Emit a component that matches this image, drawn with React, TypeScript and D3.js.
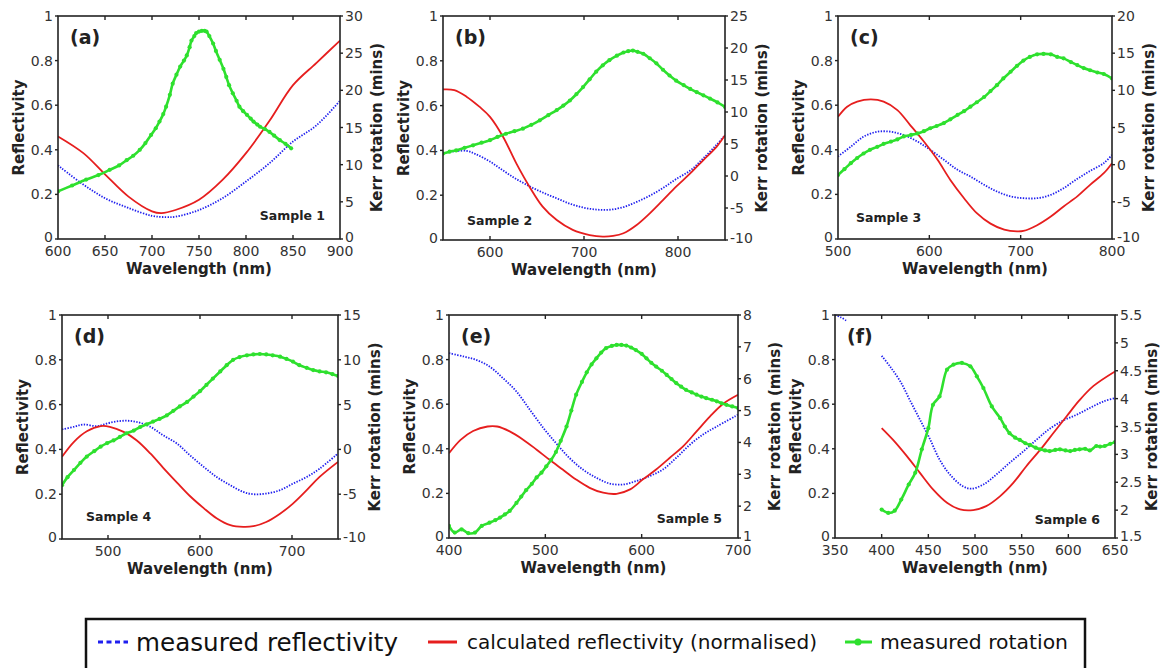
import React from "react";
import * as d3 from "d3";

type P = [number, number];

// ---------- Panel (a) Sample 1 ----------
const redA: P[] = [[600,0.46],[627,0.385],[650,0.29],[675,0.19],[700,0.124],[710,0.116],[725,0.13],[750,0.176],[775,0.265],[800,0.385],[825,0.53],[850,0.69],[875,0.79],[900,0.89]];
const blueA: P[] = [[600,0.33],[625,0.25],[650,0.183],[675,0.139],[700,0.104],[715,0.098],[725,0.1],[750,0.13],[775,0.183],[800,0.258],[825,0.34],[850,0.437],[875,0.51],[900,0.62]];
const greenA: P[] = [[600,6.4],[615,7.2],[630,8.0],[643,8.6],[655,9.3],[665,9.9],[673,10.6],[680,11.2],[687,12.0],[693,12.9],[699,14.0],[704,14.9],[708,15.8],[712,16.8],[715,17.8],[719,19.4],[722,20.9],[726,22.1],[730,23.2],[734,24.0],[737,24.7],[740,25.8],[742,26.7],[745,27.3],[747,27.7],[750,27.9],[753,28.0],[756,28.0],[758,27.9],[761,27.3],[765,26.3],[768,25.3],[772,24.1],[776,22.9],[779,21.8],[782,20.7],[786,19.6],[790,18.6],[793,17.8],[797,17.2],[801,16.7],[805,16.2],[808,15.8],[812,15.4],[815,15.1],[820,14.8],[825,14.4],[830,13.9],[836,13.3],[842,12.8],[848,12.2]];
const xTicksA = [600, 650, 700, 750, 800, 850, 900];
const kTicksA = [0, 5, 10, 15, 20, 25, 30];

// ---------- Panel (b) Sample 2 ----------
const redB: P[] = [[550,0.672],[562,0.669],[575,0.64],[589,0.594],[600,0.55],[614,0.46],[628,0.342],[642,0.238],[656,0.149],[671,0.089],[688,0.045],[706,0.022],[720,0.015],[731,0.018],[742,0.03],[756,0.067],[770,0.119],[784,0.178],[798,0.238],[813,0.297],[827,0.357],[841,0.416],[850,0.468]];
const blueB: P[] = [[560,0.395],[575,0.398],[585,0.383],[600,0.35],[614,0.31],[628,0.272],[642,0.24],[656,0.212],[671,0.186],[685,0.162],[699,0.145],[713,0.136],[727,0.135],[742,0.147],[756,0.17],[770,0.198],[784,0.232],[798,0.272],[813,0.31],[827,0.365],[841,0.425],[850,0.468]];
const greenB: P[] = [[550,3.5],[557,3.8],[564,4.0],[573,4.4],[582,4.8],[591,5.2],[600,5.6],[608,6.1],[617,6.6],[626,7.0],[635,7.4],[644,8.0],[653,8.7],[662,9.5],[671,10.3],[678,11.0],[685,11.8],[692,12.8],[699,13.9],[706,15.1],[713,16.3],[720,17.3],[727,18.1],[735,18.8],[742,19.3],[747,19.5],[752,19.6],[757,19.4],[763,19.1],[770,18.4],[777,17.6],[784,16.6],[791,15.7],[798,14.9],[806,14.2],[813,13.6],[820,13.1],[827,12.6],[834,12.1],[842,11.5],[850,10.8]];
const xTicksB = [600, 700, 800];
const kTicksB = [-10, -5, 0, 5, 10, 15, 20, 25];

// ---------- Panel (c) Sample 3 ----------
const redC: P[] = [[500,0.548],[510,0.593],[521,0.616],[536,0.626],[550,0.616],[565,0.578],[579,0.511],[594,0.437],[609,0.355],[623,0.265],[638,0.183],[652,0.116],[667,0.069],[682,0.042],[696,0.034],[703,0.036],[718,0.062],[733,0.101],[747,0.146],[762,0.191],[776,0.243],[791,0.295],[800,0.34]];
const blueC: P[] = [[500,0.37],[514,0.414],[528,0.459],[543,0.481],[558,0.481],[572,0.466],[587,0.437],[601,0.4],[616,0.355],[631,0.31],[645,0.28],[660,0.243],[674,0.213],[689,0.191],[703,0.183],[718,0.183],[733,0.198],[747,0.228],[762,0.27],[776,0.305],[791,0.34],[800,0.377]];
const greenC: P[] = [[500,-1.4],[507,-0.6],[514,0.2],[521,0.9],[528,1.5],[535,2.0],[543,2.4],[550,2.8],[558,3.1],[565,3.4],[572,3.8],[580,4.0],[587,4.2],[594,4.5],[601,4.9],[608,5.2],[616,5.6],[623,6.1],[631,6.7],[638,7.2],[645,7.8],[652,8.4],[660,9.1],[667,9.9],[674,10.7],[681,11.6],[689,12.5],[696,13.3],[703,14.0],[710,14.5],[718,14.85],[725,14.9],[733,14.85],[740,14.5],[747,14.3],[755,13.8],[762,13.4],[769,13.0],[776,12.7],[784,12.4],[791,12.2],[800,11.6]];
const xTicksC = [500, 600, 700, 800];
const kTicksC = [-10, -5, 0, 5, 10, 15, 20];

// ---------- Panel (d) Sample 4 ----------
const redD: P[] = [[450,0.367],[463,0.434],[477,0.481],[492,0.504],[502,0.501],[517,0.478],[531,0.441],[546,0.382],[560,0.318],[575,0.252],[589,0.192],[604,0.138],[618,0.093],[633,0.062],[647,0.054],[658,0.057],[672,0.076],[687,0.113],[701,0.158],[716,0.218],[730,0.277],[750,0.344]];
const blueD: P[] = [[450,0.489],[463,0.501],[473,0.511],[488,0.504],[502,0.519],[517,0.528],[531,0.523],[546,0.501],[560,0.463],[575,0.426],[589,0.374],[604,0.322],[618,0.277],[633,0.24],[647,0.21],[658,0.2],[672,0.203],[687,0.218],[701,0.247],[716,0.277],[730,0.314],[750,0.382]];
const greenD: P[] = [[450,-4.0],[456,-3.1],[463,-2.3],[470,-1.5],[477,-0.8],[485,-0.2],[492,0.3],[499,0.7],[506,1.0],[513,1.4],[520,1.8],[528,2.1],[535,2.5],[542,2.8],[549,3.1],[556,3.4],[564,3.8],[571,4.3],[578,4.8],[586,5.3],[593,5.9],[600,6.5],[607,7.2],[614,7.9],[622,8.7],[629,9.4],[636,10.0],[643,10.3],[651,10.5],[658,10.6],[665,10.65],[672,10.6],[679,10.5],[687,10.35],[694,10.1],[701,9.8],[708,9.4],[716,9.1],[723,8.85],[730,8.7],[737,8.6],[744,8.4],[750,8.2]];
const xTicksD = [500, 600, 700];
const kTicksD = [-10, -5, 0, 5, 10, 15];

// ---------- Panel (e) Sample 5 ----------
const redE: P[] = [[400,0.38],[412,0.44],[425,0.48],[440,0.5],[450,0.5],[463,0.478],[477,0.441],[491,0.396],[504,0.352],[518,0.307],[532,0.262],[546,0.225],[560,0.203],[574,0.198],[588,0.218],[601,0.262],[615,0.307],[629,0.359],[643,0.411],[657,0.478],[671,0.545],[684,0.6],[700,0.642]];
const blueE: P[] = [[400,0.829],[415,0.814],[428,0.799],[442,0.769],[456,0.717],[470,0.657],[484,0.575],[498,0.493],[511,0.426],[525,0.359],[539,0.307],[553,0.27],[567,0.244],[581,0.24],[594,0.255],[608,0.277],[622,0.307],[636,0.36],[650,0.418],[664,0.465],[678,0.5],[700,0.553]];
const greenE: P[] = [[400,1.38],[406,1.17],[413,1.27],[420,1.15],[427,1.17],[434,1.38],[442,1.48],[448,1.56],[453,1.64],[458,1.74],[463,1.85],[470,2.1],[475,2.3],[480,2.5],[486,2.7],[491,2.9],[496,3.05],[501,3.25],[506,3.45],[511,3.7],[516,4.05],[522,4.5],[527,5.0],[532,5.5],[538,5.9],[543,6.2],[548,6.45],[553,6.64],[558,6.82],[563,6.96],[569,7.03],[574,7.06],[579,7.06],[584,7.04],[589,6.98],[594,6.9],[600,6.78],[605,6.64],[610,6.5],[615,6.38],[621,6.25],[626,6.12],[631,5.99],[636,5.86],[641,5.75],[646,5.65],[652,5.57],[657,5.5],[662,5.44],[667,5.39],[673,5.34],[678,5.29],[683,5.23],[688,5.18],[694,5.13],[700,5.08]];
const xTicksE = [400, 500, 600, 700];
const kTicksE = [1, 2, 3, 4, 5, 6, 7, 8];

// ---------- Panel (f) Sample 6 ----------
const redF: P[] = [[400,0.493],[412,0.441],[427,0.367],[441,0.292],[455,0.218],[470,0.158],[484,0.128],[498,0.125],[512,0.143],[527,0.188],[541,0.247],[555,0.322],[570,0.396],[584,0.471],[598,0.545],[612,0.618],[627,0.682],[650,0.747]];
const blueF: P[] = [[400,0.817],[409,0.769],[420,0.702],[430,0.62],[441,0.531],[452,0.441],[462,0.352],[473,0.285],[487,0.232],[496,0.221],[509,0.24],[523,0.285],[537,0.337],[552,0.389],[566,0.441],[580,0.49],[595,0.528],[609,0.553],[623,0.583],[638,0.613],[650,0.627]];
const blueFEdge: P[] = [[350,1.0],[356,0.99],[362,0.975]];
const greenF: P[] = [[400,2.01],[407,1.95],[414,1.99],[421,2.19],[429,2.46],[436,2.67],[443,3.09],[450,3.47],[455,3.89],[462,4.04],[470,4.52],[477,4.61],[486,4.64],[495,4.58],[502,4.4],[509,4.19],[518,3.86],[527,3.65],[532,3.5],[537,3.38],[543,3.3],[548,3.26],[554,3.2],[559,3.17],[565,3.12],[570,3.09],[575,3.07],[580,3.06],[586,3.08],[591,3.09],[597,3.07],[602,3.06],[607,3.08],[612,3.09],[618,3.1],[623,3.07],[630,3.15],[634,3.14],[639,3.15],[645,3.19],[650,3.22]];
const xTicksF = [350, 400, 450, 500, 550, 600, 650];
const kTicksF = [1.5, 2, 2.5, 3, 3.5, 4, 4.5, 5, 5.5];

const reflTicks = [0, 0.2, 0.4, 0.6, 0.8, 1];

const legendLabels = ["measured reflectivity", "calculated reflectivity (normalised)", "measured rotation"];

// ---------- Styles ----------
const RED = "#e61e1e";
const BLUE = "#1f1fef";
const GREEN = "#2ee02e";
const FONT = "'DejaVu Sans', Verdana, sans-serif";

type Cfg = {
  id: string;
  box: { l: number; r: number; t: number; b: number };
  xDomain: [number, number];
  kDomain: [number, number];
  xTicks: number[];
  kTicks: number[];
  red: P[];
  blue: P[][];
  green: P[];
  letter: string;
  sample: string;
  sampleAnchor: "start" | "end";
  sampleDx: number;
  sampleDy: number;
};

const panels: Cfg[] = [
  { id: "a", box: { l: 58, r: 340, t: 16, b: 239 }, xDomain: [600, 900], kDomain: [0, 30], xTicks: xTicksA, kTicks: kTicksA, red: redA, blue: [blueA], green: greenA, letter: "(a)", sample: "Sample 1", sampleAnchor: "end", sampleDx: 15, sampleDy: 19 },
  { id: "b", box: { l: 443, r: 725, t: 16, b: 240 }, xDomain: [550, 850], kDomain: [-10, 25], xTicks: xTicksB, kTicks: kTicksB, red: redB, blue: [blueB], green: greenB, letter: "(b)", sample: "Sample 2", sampleAnchor: "start", sampleDx: 24, sampleDy: 15 },
  { id: "c", box: { l: 838, r: 1112, t: 16, b: 239 }, xDomain: [500, 800], kDomain: [-10, 20], xTicks: xTicksC, kTicks: kTicksC, red: redC, blue: [blueC], green: greenC, letter: "(c)", sample: "Sample 3", sampleAnchor: "start", sampleDx: 18, sampleDy: 17 },
  { id: "d", box: { l: 62, r: 338, t: 315, b: 539 }, xDomain: [450, 750], kDomain: [-10, 15], xTicks: xTicksD, kTicks: kTicksD, red: redD, blue: [blueD], green: greenD, letter: "(d)", sample: "Sample 4", sampleAnchor: "start", sampleDx: 24, sampleDy: 18 },
  { id: "e", box: { l: 449, r: 738, t: 315, b: 538 }, xDomain: [400, 700], kDomain: [1, 8], xTicks: xTicksE, kTicks: kTicksE, red: redE, blue: [blueE], green: greenE, letter: "(e)", sample: "Sample 5", sampleAnchor: "end", sampleDx: 16, sampleDy: 15 },
  { id: "f", box: { l: 835, r: 1115, t: 315, b: 538 }, xDomain: [350, 650], kDomain: [1.5, 5.5], xTicks: xTicksF, kTicks: kTicksF, red: redF, blue: [blueFEdge, blueF], green: greenF, letter: "(f)", sample: "Sample 6", sampleAnchor: "end", sampleDx: 15, sampleDy: 14 },
];

function Panel({ cfg }: { cfg: Cfg }) {
  const { l, r, t, b } = cfg.box;
  const x = d3.scaleLinear().domain(cfg.xDomain).range([l, r]);
  const yL = d3.scaleLinear().domain([0, 1]).range([b, t]);
  const yR = d3.scaleLinear().domain(cfg.kDomain).range([b, t]);
  const curve = d3.curveCatmullRom.alpha(0.5);
  const lineL = d3.line<P>().x((d) => x(d[0])).y((d) => yL(d[1])).curve(curve);
  const lineR = d3.line<P>().x((d) => x(d[0])).y((d) => yR(d[1])).curve(curve);
  const clip = `clip-${cfg.id}`;
  const cy = (t + b) / 2;
  const cx = (l + r) / 2;
  return (
    <g>
      <defs>
        <clipPath id={clip}>
          <rect x={l} y={t - 1} width={r - l} height={b - t + 2} />
        </clipPath>
      </defs>
      <g clipPath={`url(#${clip})`}>
        {cfg.blue.map((s, i) => (
          <path key={i} d={lineL(s) || ""} fill="none" stroke={BLUE} strokeWidth={1.8} strokeDasharray="1.4 1.4" />
        ))}
        <path d={lineL(cfg.red) || ""} fill="none" stroke={RED} strokeWidth={1.8} />
        <path d={lineR(cfg.green) || ""} fill="none" stroke={GREEN} strokeWidth={2.6} />
        {cfg.green.map((d, i) => (
          <circle key={i} cx={x(d[0])} cy={yR(d[1])} r={2.1} fill={GREEN} />
        ))}
      </g>
      <rect x={l} y={t} width={r - l} height={b - t} fill="none" stroke="#222" strokeWidth={1.6} />
      {cfg.xTicks.map((v) => (
        <g key={"x" + v}>
          {x(v) > l + 1 && x(v) < r - 1 && (
            <>
              <line x1={x(v)} x2={x(v)} y1={b} y2={b - 4} stroke="#222" strokeWidth={1.4} />
              <line x1={x(v)} x2={x(v)} y1={t} y2={t + 4} stroke="#222" strokeWidth={1.4} />
            </>
          )}
          <text x={x(v)} y={b + 17} textAnchor="middle" fontSize={14} fill="#333" fontFamily={FONT}>
            {String(v)}
          </text>
        </g>
      ))}
      {reflTicks.map((v) => (
        <g key={"l" + v}>
          <line x1={l} x2={l - 3} y1={yL(v)} y2={yL(v)} stroke="#222" strokeWidth={1.4} />
          <text x={l - 5} y={yL(v) + (v === 0 ? 3 : 5)} textAnchor="end" fontSize={14} fill="#333" fontFamily={FONT}>
            {String(v)}
          </text>
        </g>
      ))}
      {cfg.kTicks.map((v, i) => (
        <g key={"r" + v}>
          <line x1={r} x2={r + 3} y1={yR(v)} y2={yR(v)} stroke="#222" strokeWidth={1.4} />
          <text x={r + 5} y={yR(v) + (i === 0 ? 3 : 5)} textAnchor="start" fontSize={14} fill="#333" fontFamily={FONT}>
            {String(v)}
          </text>
        </g>
      ))}
      <text x={cx} y={b + 35} textAnchor="middle" fontSize={15} fontWeight="bold" fill="#222" fontFamily={FONT}>
        Wavelength (nm)
      </text>
      <text transform={`translate(${l - 34},${cy}) rotate(-90)`} textAnchor="middle" fontSize={15} fontWeight="bold" fill="#222" fontFamily={FONT}>
        Reflectivity
      </text>
      <text transform={`translate(${r + 42},${cy}) rotate(-90)`} textAnchor="middle" fontSize={15} fontWeight="bold" fill="#222" fontFamily={FONT}>
        Kerr rotation (mins)
      </text>
      <text x={l + 12} y={t + 28} fontSize={19} fontWeight="bold" fill="#222" fontFamily={FONT}>
        {cfg.letter}
      </text>
      <text
        x={cfg.sampleAnchor === "end" ? r - cfg.sampleDx : l + cfg.sampleDx}
        y={b - cfg.sampleDy}
        textAnchor={cfg.sampleAnchor}
        fontSize={12.5}
        fontWeight="bold"
        fill="#222"
        fontFamily={FONT}
      >
        {cfg.sample}
      </text>
    </g>
  );
}

function Legend() {
  const y = 642;
  return (
    <g>
      <rect x={86} y={619} width={999} height={70} fill="white" stroke="#111" strokeWidth={2.5} />
      <line x1={98} x2={128} y1={y} y2={y} stroke={BLUE} strokeWidth={3} strokeDasharray="5 3.5" />
      <text x={136} y={y + 9} fontSize={24.5} fill="#111" fontFamily={FONT} textLength={262} lengthAdjust="spacingAndGlyphs">
        {legendLabels[0]}
      </text>
      <line x1={428} x2={457} y1={y} y2={y} stroke={RED} strokeWidth={3} />
      <text x={467} y={y + 7} fontSize={20} fill="#111" fontFamily={FONT} textLength={350} lengthAdjust="spacingAndGlyphs">
        {legendLabels[1]}
      </text>
      <line x1={845} x2={872} y1={y} y2={y} stroke={GREEN} strokeWidth={3} />
      <circle cx={858} cy={y} r={3.5} fill={GREEN} />
      <text x={880} y={y + 7} fontSize={20} fill="#111" fontFamily={FONT} textLength={188} lengthAdjust="spacingAndGlyphs">
        {legendLabels[2]}
      </text>
    </g>
  );
}

export default function App() {
  return (
    <svg
      width={1167}
      height={668}
      viewBox="0 0 1167 668"
      style={{ position: "absolute", left: 0, top: 0, background: "white" }}
    >
      <rect x={0} y={0} width={1167} height={668} fill="white" />
      {panels.map((p) => (
        <Panel key={p.id} cfg={p} />
      ))}
      <Legend />
    </svg>
  );
}
